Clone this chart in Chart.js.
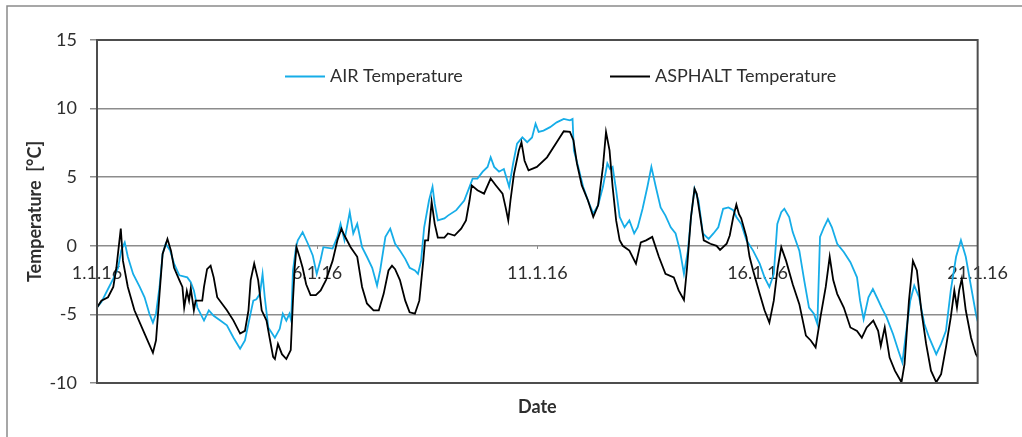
<!DOCTYPE html>
<html>
<head>
<meta charset="utf-8">
<script src="https://cdn.jsdelivr.net/npm/chart.js@4"></script>
<style>
  html, body { margin: 0; padding: 0; background: #ffffff; }
  #wrap { position: relative; width: 1022px; height: 437px; }
  canvas { display: block; }
</style>
</head>
<body>
<div id="wrap"><canvas id="c" width="1022" height="437"></canvas></div>
<script>
// ---- Data (days since 1.1.16, temperature in °C) ----
const xTickValues = [0, 5, 10, 15, 20];
const xTickLabels = ['1.1.16', '6.1.16', '11.1.16', '16.1.16', '21.1.16'];
const yTickValues = [-10, -5, 0, 5, 10, 15];
const seriesNames = ['AIR Temperature', 'ASPHALT Temperature'];

const airDays = [0.00,0.10,0.25,0.37,0.48,0.55,0.63,0.70,0.82,0.97,1.08,1.19,1.27,1.34,1.42,1.49,1.56,1.66,1.75,1.87,2.05,2.13,2.20,2.28,2.43,2.54,2.65,2.80,2.95,3.10,3.25,3.36,3.47,3.55,3.62,3.70,3.76,3.81,3.89,4.04,4.15,4.22,4.30,4.37,4.41,4.45,4.52,4.56,4.67,4.79,4.90,4.99,5.08,5.14,5.35,5.46,5.53,5.62,5.74,5.82,5.91,6.02,6.13,6.25,6.36,6.43,6.55,6.66,6.77,6.88,7.00,7.10,7.22,7.29,7.36,7.43,7.54,7.62,7.67,7.74,7.89,7.97,8.16,8.34,8.46,8.53,8.64,8.76,8.87,8.94,9.02,9.13,9.24,9.36,9.45,9.54,9.66,9.77,9.88,9.96,10.03,10.14,10.29,10.44,10.60,10.74,10.80,10.83,10.93,11.04,11.15,11.27,11.38,11.49,11.59,11.65,11.71,11.79,11.87,11.98,12.09,12.20,12.28,12.39,12.50,12.59,12.69,12.80,12.91,13.03,13.14,13.24,13.33,13.42,13.49,13.57,13.66,13.76,13.89,14.00,14.11,14.22,14.34,14.45,14.52,14.63,14.75,14.90,15.05,15.16,15.27,15.37,15.45,15.54,15.61,15.72,15.80,15.95,16.06,16.17,16.28,16.36,16.42,16.51,16.60,16.69,16.81,16.96,17.11,17.26,17.33,17.41,17.52,17.62,17.71,17.82,17.93,18.08,18.20,18.29,18.38,18.47,18.56,18.67,18.79,18.90,19.06,19.17,19.28,19.39,19.51,19.62,19.73,19.84,19.96,20.00];
const airTemps = [-4.5,-4.1,-3.15,-2.4,-1.6,-0.35,0.25,-0.8,-2.05,-3.0,-3.75,-4.95,-5.6,-4.95,-3.0,-0.6,0.15,-0.35,-1.3,-2.15,-2.3,-2.65,-3.25,-4.5,-5.45,-4.7,-5.1,-5.45,-5.8,-6.7,-7.5,-6.9,-5.2,-4.0,-3.9,-3.5,-2.05,-3.75,-5.95,-6.7,-6.05,-4.95,-5.45,-4.95,-5.45,-1.8,-0.1,0.4,1.0,0.15,-0.7,-2.05,-1.0,-0.1,-0.2,0.65,1.6,0.4,2.45,0.9,1.6,-0.1,-0.8,-1.6,-2.9,-1.8,0.65,1.25,0.15,-0.35,-0.95,-1.6,-1.8,-2.05,-1.1,1.35,3.3,4.3,3.05,1.85,2.0,2.2,2.6,3.3,4.3,4.9,4.9,5.4,5.75,6.45,5.75,5.4,5.6,4.3,6.0,7.45,7.9,7.55,7.9,8.9,8.3,8.4,8.65,9.0,9.25,9.15,9.25,6.95,5.75,4.3,3.3,2.35,2.95,4.3,6.0,5.6,5.75,4.05,2.1,1.35,1.85,0.9,1.35,2.7,4.3,5.75,4.3,2.8,2.2,1.35,0.9,-0.35,-2.05,-0.35,2.1,4.15,3.3,0.9,0.5,0.9,1.35,2.7,2.8,2.6,2.1,1.6,0.4,-0.35,-1.3,-2.3,-3.0,-2.05,1.6,2.45,2.7,2.1,1.0,-0.35,-2.5,-4.5,-4.95,-5.7,0.65,1.35,1.95,1.35,0.15,-0.45,-1.2,-2.3,-4.0,-5.35,-3.75,-3.15,-3.75,-4.5,-5.2,-6.45,-7.65,-8.5,-6.2,-4.0,-2.9,-3.75,-5.7,-6.7,-7.9,-7.15,-6.2,-3.25,-0.8,0.4,-0.8,-2.8,-4.95,-5.5];

const asphaltDays = [0.00,0.10,0.25,0.37,0.44,0.54,0.59,0.70,0.85,1.08,1.27,1.34,1.42,1.49,1.60,1.68,1.75,1.87,1.94,1.98,2.04,2.09,2.13,2.20,2.24,2.39,2.43,2.50,2.58,2.65,2.73,2.95,3.10,3.25,3.36,3.44,3.49,3.57,3.66,3.74,3.85,3.92,4.00,4.04,4.11,4.20,4.30,4.40,4.45,4.49,4.53,4.60,4.67,4.75,4.85,4.97,5.08,5.20,5.35,5.46,5.55,5.62,5.76,5.91,6.02,6.13,6.28,6.40,6.51,6.62,6.70,6.77,6.88,7.00,7.10,7.22,7.32,7.41,7.45,7.52,7.60,7.67,7.74,7.89,7.97,8.12,8.27,8.38,8.46,8.51,8.64,8.79,8.94,9.06,9.21,9.28,9.34,9.39,9.47,9.58,9.64,9.71,9.80,9.99,10.22,10.44,10.60,10.74,10.82,10.90,11.01,11.15,11.27,11.38,11.49,11.56,11.64,11.71,11.79,11.87,11.94,12.09,12.24,12.35,12.47,12.61,12.76,12.91,13.10,13.21,13.33,13.40,13.49,13.57,13.62,13.70,13.78,13.93,14.07,14.15,14.30,14.37,14.45,14.52,14.58,14.63,14.75,14.82,14.90,15.05,15.16,15.27,15.37,15.46,15.54,15.65,15.80,15.95,16.10,16.21,16.32,16.43,16.55,16.64,16.72,16.81,16.96,17.11,17.26,17.37,17.48,17.63,17.74,17.80,17.89,18.00,18.12,18.27,18.34,18.44,18.53,18.62,18.72,18.83,18.94,19.06,19.17,19.28,19.39,19.47,19.53,19.58,19.64,19.73,19.85,19.96,20.00];
const asphaltTemps = [-4.5,-4.0,-3.75,-3.0,-1.6,1.25,-1.1,-3.0,-4.7,-6.4,-7.8,-6.9,-3.5,-0.6,0.5,-0.35,-1.6,-2.5,-3.0,-4.5,-3.3,-4.0,-3.1,-4.7,-4.0,-4.0,-3.0,-1.7,-1.45,-2.3,-3.75,-4.7,-5.45,-6.4,-6.2,-4.7,-2.5,-1.3,-2.5,-4.7,-5.45,-6.7,-8.1,-8.25,-7.15,-7.9,-8.25,-7.6,-4.0,-1.6,-0.1,-0.8,-1.6,-2.8,-3.6,-3.6,-3.25,-2.5,-1.1,0.4,1.25,0.75,-0.1,-0.8,-3.0,-4.2,-4.7,-4.7,-3.5,-1.8,-1.45,-1.7,-2.5,-4.0,-4.85,-4.95,-4.0,-1.1,0.4,0.4,3.2,1.6,0.6,0.6,0.9,0.75,1.25,1.85,3.3,4.4,4.05,3.8,4.9,4.4,3.8,2.8,1.85,3.3,5.25,6.95,7.55,6.2,5.5,5.75,6.45,7.55,8.35,8.3,7.7,6.0,4.4,3.3,2.1,2.95,5.75,8.3,6.95,4.3,1.85,0.4,0.0,-0.35,-1.3,0.25,0.4,0.65,-0.8,-2.05,-2.3,-3.25,-3.95,-1.6,2.1,4.15,3.8,2.1,0.4,0.15,0.0,-0.3,0.15,0.75,2.1,3.0,2.3,2.0,0.65,-0.8,-1.8,-3.5,-4.7,-5.6,-4.0,-1.6,-0.1,-1.1,-2.8,-4.25,-6.55,-6.9,-7.4,-5.2,-3.0,-0.8,-2.5,-3.5,-4.5,-5.95,-6.2,-6.7,-5.95,-5.45,-6.2,-7.3,-5.95,-8.15,-9.1,-9.95,-8.6,-4.0,-1.1,-1.8,-4.7,-7.15,-9.1,-9.95,-9.35,-7.4,-5.2,-3.25,-4.5,-3.25,-2.4,-4.7,-6.7,-7.9,-8.1];

const airColor = '#16ade8';
const asphaltColor = '#000000';
const FONT = 'Lato, "Open Sans", sans-serif';
const TEXT = '#2e2e2e';

function toPoints(xs, ys) { return xs.map((x, i) => ({ x: x, y: ys[i] })); }

const framePlugin = {
  id: 'frame',
  beforeDraw(chart) {
    const ctx = chart.ctx;
    ctx.save();
    ctx.strokeStyle = '#8a8a8a';
    ctx.lineWidth = 1.5;
    ctx.strokeRect(7, 6, 1040, 460);
    ctx.restore();
  },
  afterDatasetsDraw(chart) {
    const { ctx, chartArea: a } = chart;
    ctx.save();
    ctx.strokeStyle = '#4d4d4d';
    ctx.lineWidth = 2;
    ctx.strokeRect(a.left, a.top, a.right - a.left, a.bottom - a.top);
    // legend (inside plot area)
    const items = [
      { color: airColor, text: seriesNames[0], x0: 285 },
      { color: asphaltColor, text: seriesNames[1], x0: 610 }
    ];
    const ly = 76.5;
    ctx.font = '18px ' + FONT;
    ctx.textBaseline = 'middle';
    ctx.textAlign = 'left';
    items.forEach(it => {
      ctx.strokeStyle = it.color;
      ctx.lineWidth = 1.8;
      ctx.beginPath();
      ctx.moveTo(it.x0, ly);
      ctx.lineTo(it.x0 + 40, ly);
      ctx.stroke();
      ctx.fillStyle = TEXT;
      ctx.fillText(it.text, it.x0 + 45, ly);
    });
    ctx.restore();
  }
};

new Chart(document.getElementById('c'), {
  type: 'line',
  data: {
    datasets: [
      {
        label: seriesNames[1],
        data: toPoints(asphaltDays, asphaltTemps),
        borderColor: asphaltColor,
        borderWidth: 1.8,
        pointRadius: 0,
        tension: 0,
        fill: false
      },
      {
        label: seriesNames[0],
        data: toPoints(airDays, airTemps),
        borderColor: airColor,
        borderWidth: 1.8,
        pointRadius: 0,
        tension: 0,
        fill: false
      }
    ]
  },
  options: {
    responsive: false,
    animation: false,
    devicePixelRatio: 1,
    layout: { padding: { left: 0, top: 40, right: 34, bottom: 0 } },
    plugins: {
      legend: { display: false },
      tooltip: { enabled: false }
    },
    scales: {
      x: {
        type: 'linear',
        min: 0,
        max: 20,
        position: { y: 0 },
        afterBuildTicks(scale) { scale.ticks = xTickValues.map(v => ({ value: v })); },
        ticks: {
          autoSkip: false,
          maxRotation: 0,
          padding: 14,
          color: TEXT,
          font: { family: FONT, size: 18 },
          callback(value) {
            const i = xTickValues.indexOf(value);
            return i >= 0 ? xTickLabels[i] : '';
          }
        },
        grid: { display: true, drawOnChartArea: false, drawTicks: true, tickLength: 3, color: '#8c8c8c', lineWidth: 1 },
        border: { display: false }
      },
      x2: {
        type: 'linear',
        position: 'bottom',
        min: 0,
        max: 20,
        ticks: { display: false },
        grid: { display: false, drawTicks: false },
        border: { display: false },
        title: {
          display: true,
          text: 'Date',
          color: TEXT,
          font: { family: FONT, size: 18, weight: 'bold' },
          padding: { top: 0, bottom: 19 }
        },
        afterFit(scale) { scale.height = 54; }
      },
      y: {
        type: 'linear',
        min: -10,
        max: 15,
        afterBuildTicks(scale) { scale.ticks = yTickValues.map(v => ({ value: v })); },
        ticks: {
          padding: 13,
          color: TEXT,
          font: { family: FONT, size: 18 }
        },
        grid: { color: '#8c8c8c', lineWidth: 1.5, tickLength: 7 },
        border: { display: false },
        title: {
          display: true,
          text: 'Temperature  [°C]',
          color: TEXT,
          font: { family: FONT, size: 18, weight: 'bold' },
          padding: { top: 24, bottom: 0 }
        },
        afterFit(scale) { scale.width = 97; }
      }
    }
  },
  plugins: [framePlugin]
});
</script>
</body>
</html>
